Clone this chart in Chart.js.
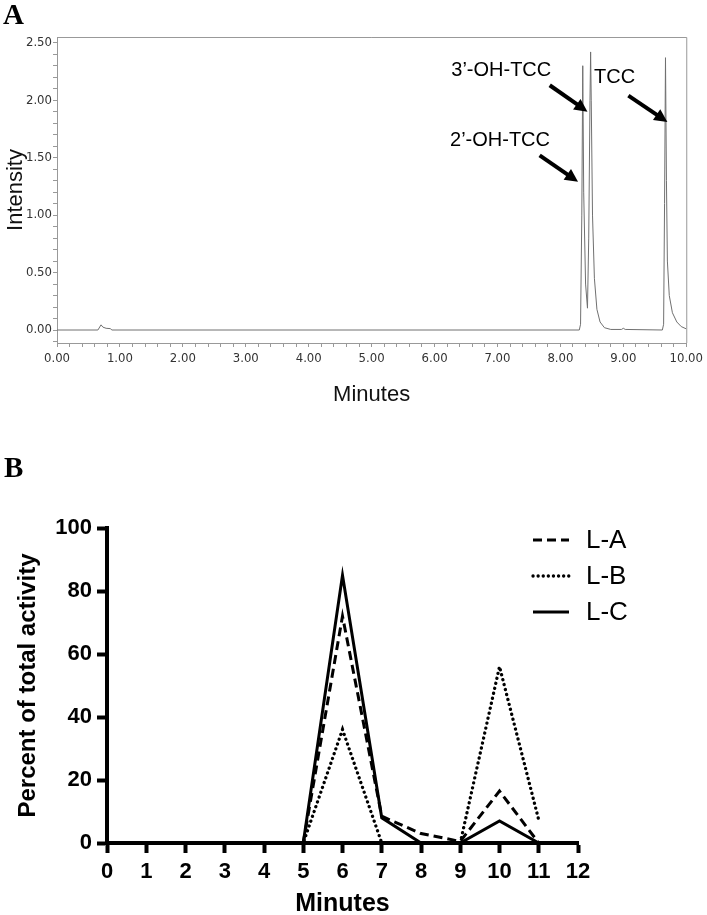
<!DOCTYPE html>
<html lang="en">
<head>
<meta charset="UTF-8" />
<title>TCC metabolites</title>
<script src="https://cdn.jsdelivr.net/npm/chart.js"></script>
<style>
  body { margin: 0; background: #fff; width: 707px; height: 915px; position: relative; overflow: hidden; }
  .panel { position: absolute; left: 0; width: 707px; }
  #wrapA { top: 0; height: 420px; }
  #wrapB { top: 440px; height: 475px; }
  .tag { position: absolute; font-family: "Liberation Serif", "Times New Roman", serif; font-weight: bold; font-size: 29px; line-height: 1; }
</style>
</head>
<body>
<div class="panel" id="wrapA"><canvas id="chartA" width="707" height="420"></canvas></div>
<div class="panel" id="wrapB"><canvas id="chartB" width="707" height="475"></canvas></div>
<div class="tag" style="left:3px; top:0px">A</div>
<div class="tag" style="left:4px; top:453px">B</div>

<script>
// panel A: chromatogram trace (minutes, intensity)
const retentionTimes = [0, 0.65, 0.70, 0.73, 0.78, 0.85, 0.87, 8.30, 8.32, 8.34, 8.355, 8.37, 8.40, 8.43, 8.45, 8.47, 8.48, 8.49, 8.51, 8.54, 8.58, 8.63, 8.70, 8.80, 8.97, 9.00, 9.03, 9.62, 9.64, 9.655, 9.67, 9.685, 9.70, 9.73, 9.78, 9.85, 9.92, 10.0];
const intensities    = [0, 0, 0.045, 0.025, 0.015, 0.012, 0, 0, 0.05, 1.0, 2.30, 1.2, 0.4, 0.19, 0.8, 2.0, 2.42, 2.0, 1.0, 0.45, 0.18, 0.07, 0.02, 0.005, 0.005, 0.015, 0.005, 0, 0.05, 1.1, 2.37, 1.3, 0.6, 0.3, 0.15, 0.07, 0.03, 0.01];

// panel B: percent of total activity per minute
const minutes = [0, 1, 2, 3, 4, 5, 6, 7, 8, 9, 10, 11];
const seriesLA = [0, 0, 0, 0, 0, 0, 72, 8.5, 3, 0.5, 16.5, 0];
const seriesLB = [0, 0, 0, 0, 0, 0, 36, 0, 0, 0, 56, 7.3];
const seriesLC = [0, 0, 0, 0, 0, 0, 85, 8, 0, 0, 7, 0];
const seriesNames = ['L-A', 'L-B', 'L-C'];

// peak labels with arrows, in data units
const peakNotes = [
  { text: '3\u2019-OH-TCC', at: [7.06, 2.26], from: [7.83, 2.13], to: [8.43, 1.90] },
  { text: '2\u2019-OH-TCC', at: [7.04, 1.65], from: [7.67, 1.52], to: [8.28, 1.29] },
  { text: 'TCC',            at: [8.86, 2.20], from: [9.08, 2.04], to: [9.70, 1.81] }
];

const frameA = {
  id: 'frameA',
  afterDraw(chart) {
    const { ctx, chartArea: a } = chart;
    ctx.save();
    ctx.strokeStyle = '#999';
    ctx.lineWidth = 1;
    ctx.beginPath();
    ctx.moveTo(a.left, a.top + 0.5);
    ctx.lineTo(a.right + 0.5, a.top + 0.5);
    ctx.lineTo(a.right + 0.5, a.bottom);
    ctx.stroke();
    ctx.restore();
  }
};

const notesA = {
  id: 'notesA',
  afterDatasetsDraw(chart) {
    const { ctx, scales: { x, y } } = chart;
    ctx.save();
    ctx.fillStyle = '#000';
    ctx.strokeStyle = '#000';
    ctx.font = '20px "Liberation Sans", Arial, sans-serif';
    ctx.textAlign = 'center';
    ctx.textBaseline = 'middle';
    peakNotes.forEach(n => {
      ctx.fillText(n.text, x.getPixelForValue(n.at[0]), y.getPixelForValue(n.at[1]));
      const x1 = x.getPixelForValue(n.from[0]), y1 = y.getPixelForValue(n.from[1]);
      const x2 = x.getPixelForValue(n.to[0]), y2 = y.getPixelForValue(n.to[1]);
      const ang = Math.atan2(y2 - y1, x2 - x1);
      const hl = 13, hw = 6.5;
      ctx.lineWidth = 4;
      ctx.beginPath();
      ctx.moveTo(x1, y1);
      ctx.lineTo(x2 - Math.cos(ang) * hl * 0.8, y2 - Math.sin(ang) * hl * 0.8);
      ctx.stroke();
      ctx.beginPath();
      ctx.moveTo(x2, y2);
      ctx.lineTo(x2 - Math.cos(ang) * hl - Math.sin(ang) * hw, y2 - Math.sin(ang) * hl + Math.cos(ang) * hw);
      ctx.lineTo(x2 - Math.cos(ang) * hl + Math.sin(ang) * hw, y2 - Math.sin(ang) * hl - Math.cos(ang) * hw);
      ctx.closePath();
      ctx.fill();
    });
    ctx.restore();
  }
};

const narrow = '"Liberation Sans Narrow", "DejaVu Sans Condensed", sans-serif';

new Chart(document.getElementById('chartA'), {
  type: 'line',
  data: {
    datasets: [{
      data: retentionTimes.map((t, i) => ({ x: t, y: intensities[i] })),
      borderColor: '#707070',
      borderWidth: 1,
      pointRadius: 0,
      tension: 0
    }]
  },
  options: {
    responsive: false,
    animation: false,
    layout: { padding: { top: 37, right: 18, left: 0, bottom: 0 } },
    plugins: { legend: { display: false }, tooltip: { enabled: false } },
    scales: {
      x: {
        type: 'linear',
        min: 0, max: 10,
        afterFit: s => { s.height = 77; },
        border: { color: '#999', width: 1 },
        grid: { drawOnChartArea: false, tickLength: 4, tickColor: '#999' },
        ticks: {
          stepSize: 0.2, autoSkip: false, maxRotation: 0, padding: 4,
          color: '#333', font: { family: narrow, size: 13 },
          callback: v => Math.abs(v - Math.round(v)) < 1e-6 ? v.toFixed(2) : ''
        },
        title: { display: true, text: 'Minutes', color: '#111', font: { family: '"Liberation Sans", Arial', size: 22 }, padding: { top: 0, bottom: 12 } }
      },
      y: {
        min: -0.113, max: 2.55,
        afterFit: s => { s.width = 57; },
        border: { color: '#999', width: 1 },
        grid: { drawOnChartArea: false, tickLength: 4, tickColor: '#999' },
        ticks: {
          stepSize: 0.1, includeBounds: false, autoSkip: false, padding: 1,
          color: '#333', font: { family: narrow, size: 13 },
          callback: v => Math.abs(v * 2 - Math.round(v * 2)) < 1e-6 ? v.toFixed(2) : ''
        },
        title: { display: true, text: 'Intensity', color: '#111', font: { family: '"Liberation Sans", Arial', size: 22 }, padding: { top: 3, bottom: 0 } }
      }
    }
  },
  plugins: [frameA, notesA]
});

// panel B legend drawn inside the plot area
const legendB = {
  id: 'legendB',
  afterDatasetsDraw(chart) {
    const { ctx, chartArea: a } = chart;
    ctx.save();
    ctx.font = '26px "Liberation Sans", Arial, sans-serif';
    ctx.textBaseline = 'middle';
    ctx.fillStyle = '#000';
    chart.data.datasets.forEach((ds, i) => {
      const yy = a.top + 12 + i * 36;
      const x0 = a.right - 45;
      ctx.strokeStyle = '#000';
      ctx.lineWidth = ds.borderWidth;
      ctx.lineCap = ds.borderCapStyle || 'butt';
      ctx.setLineDash(ds.borderDash || []);
      ctx.beginPath();
      ctx.moveTo(x0, yy);
      ctx.lineTo(x0 + 36, yy);
      ctx.stroke();
      ctx.setLineDash([]);
      ctx.fillText(ds.label, x0 + 53, yy + 1);
    });
    ctx.restore();
  }
};

const boldFont = size => ({ family: '"Liberation Sans", Arial, sans-serif', size: size, weight: 'bold' });

new Chart(document.getElementById('chartB'), {
  type: 'line',
  data: {
    datasets: [
      { label: seriesNames[0], data: minutes.map((m, i) => ({ x: m, y: seriesLA[i] })), borderColor: '#000', borderWidth: 3, borderDash: [9, 5], pointRadius: 0, tension: 0 },
      { label: seriesNames[1], data: minutes.map((m, i) => ({ x: m, y: seriesLB[i] })), borderColor: '#000', borderWidth: 3.3, borderDash: [0.1, 5], borderCapStyle: 'round', pointRadius: 0, tension: 0 },
      { label: seriesNames[2], data: minutes.map((m, i) => ({ x: m, y: seriesLC[i] })), borderColor: '#000', borderWidth: 3, pointRadius: 0, tension: 0 }
    ]
  },
  options: {
    responsive: false,
    animation: false,
    layout: { padding: { top: 88, right: 129, left: 0, bottom: 0 } },
    plugins: { legend: { display: false }, tooltip: { enabled: false } },
    scales: {
      x: {
        type: 'linear',
        min: 0, max: 12,
        afterFit: s => { s.height = 72; },
        border: { color: '#000', width: 4 },
        grid: { drawOnChartArea: false, tickLength: 10, tickWidth: 4, tickColor: '#000' },
        ticks: { stepSize: 1, autoSkip: false, maxRotation: 0, padding: 6, color: '#000', font: boldFont(22) },
        title: { display: true, text: 'Minutes', color: '#000', font: { ...boldFont(25), lineHeight: 1 }, padding: { top: 0, bottom: -2 } }
      },
      y: {
        min: 0, max: 100,
        afterFit: s => { s.width = 107; },
        border: { color: '#000', width: 4 },
        grid: { drawOnChartArea: false, tickLength: 10, tickWidth: 4, tickColor: '#000' },
        ticks: { stepSize: 20, padding: 5, color: '#000', font: boldFont(22) },
        title: { display: true, text: 'Percent of total activity', color: '#000', font: boldFont(24), padding: { top: 14, bottom: 0 } }
      }
    }
  },
  plugins: [legendB]
});
</script>
</body>
</html>
